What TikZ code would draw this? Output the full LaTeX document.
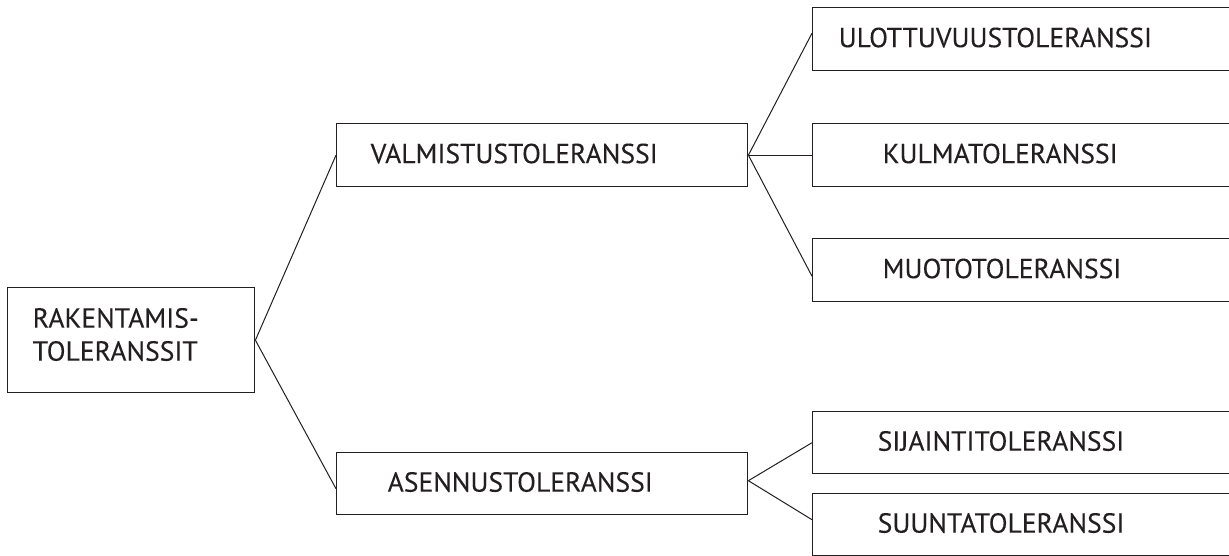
\documentclass[tikz,border=0pt]{standalone}
\usepackage{fontspec}
\setmainfont{PT Sans}[FakeBold=0.15]
\definecolor{ink}{RGB}{35,31,32}
\begin{document}
\begin{tikzpicture}[x=1pt,y=-1pt,
  box/.style={draw=ink, line width=1.4pt, anchor=north west, inner ysep=0pt,
    align=left, text=ink, font=\fontsize{27.6}{33}\selectfont,
    text height=19pt, text depth=3pt},
  link/.style={draw=ink, line width=1pt}]
\useasboundingbox (0,0) rectangle (1229,556);
\node[box, minimum width=247pt, minimum height=105pt, inner xsep=25pt, text width=197pt, text depth=44pt] (root) at (7,287) {RAKENTAMIS-\\TOLERANSSIT};
\node[box, minimum width=411pt, minimum height=63pt, inner xsep=34pt, text width=343pt] (valm) at (336,123) {VALMISTUSTOLERANSSI};
\node[box, minimum width=411pt, minimum height=62pt, inner xsep=51pt, text width=309pt] (asen) at (336,452) {ASENNUSTOLERANSSI};
\node[box, minimum width=423pt, minimum height=63pt, inner xsep=26pt, text width=371pt] (ulot) at (812,7) {ULOTTUVUUSTOLERANSSI};
\node[box, minimum width=423pt, minimum height=63pt, inner xsep=70pt, text width=283pt] (kulm) at (812,123) {KULMATOLERANSSI};
\node[box, minimum width=423pt, minimum height=63pt, inner xsep=70pt, text width=283pt] (muot) at (812,238) {MUOTOTOLERANSSI};
\node[box, minimum width=423pt, minimum height=62pt, inner xsep=65pt, text width=293pt] (sija) at (812,411) {SIJAINTITOLERANSSI};
\node[box, minimum width=423pt, minimum height=62pt, inner xsep=65pt, text width=293pt] (suun) at (812,493) {SUUNTATOLERANSSI};
\draw[link] (root.east) -- (valm.west);
\draw[link] (root.east) -- ([yshift=-5pt]asen.west);
\draw[link] (valm.east) -- ([yshift=6pt]ulot.west);
\draw[link] (valm.east) -- (kulm.west);
\draw[link] (valm.east) -- ([yshift=-6pt]muot.west);
\draw[link] ([yshift=3pt]asen.east) -- (sija.west);
\draw[link] ([yshift=3pt]asen.east) -- ([yshift=5pt]suun.west);
\end{tikzpicture}
\end{document}
